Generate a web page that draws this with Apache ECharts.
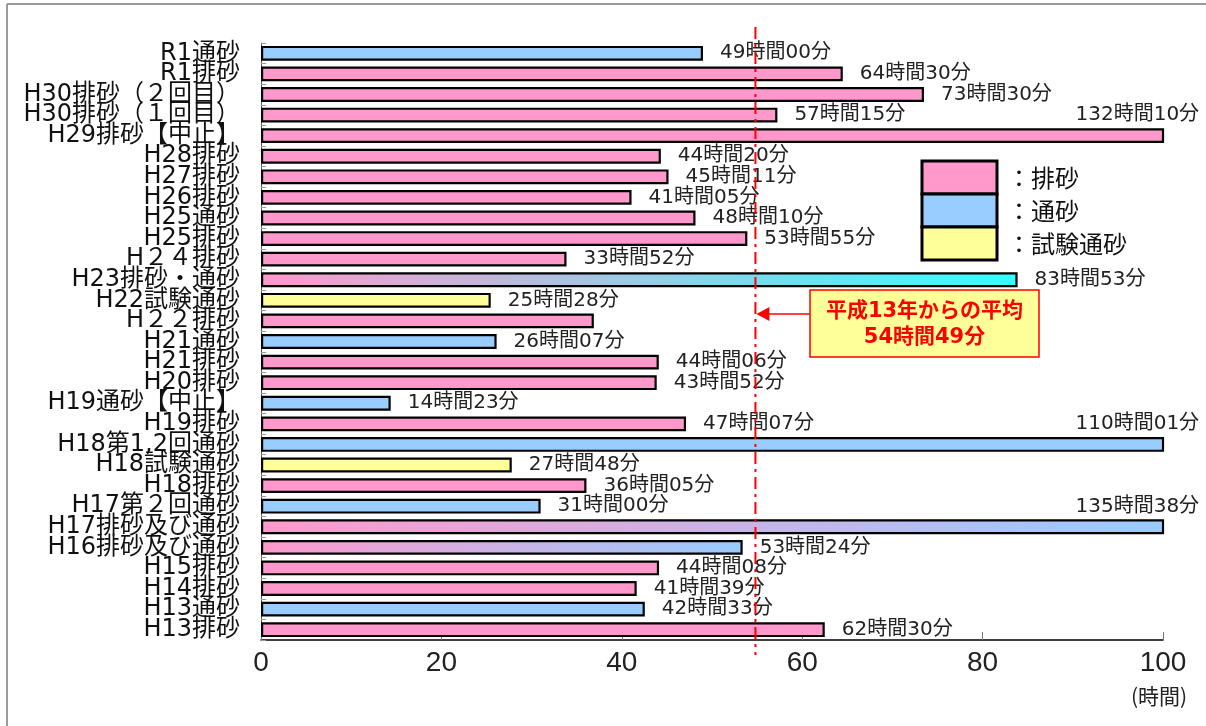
<!DOCTYPE html>
<html><head><meta charset="utf-8">
<script src="https://cdn.jsdelivr.net/npm/echarts@6/dist/echarts.min.js"></script>
<style>html,body{margin:0;padding:0;background:#fff}#c{width:1206px;height:726px}</style>
</head><body><div id="c"></div>
<script>
const categories = ['R1通砂','R1排砂','H30排砂（２回目）','H30排砂（１回目）','H29排砂【中止】','H28排砂','H27排砂','H26排砂','H25通砂','H25排砂','H２４排砂','H23排砂・通砂','H22試験通砂','H２２排砂','H21通砂','H21排砂','H20排砂','H19通砂【中止】','H19排砂','H18第1,2回通砂','H18試験通砂','H18排砂','H17第２回通砂','H17排砂及び通砂','H16排砂及び通砂','H15排砂','H14排砂','H13通砂','H13排砂'];
const values = [49.0,64.5,73.5,57.25,132.17,44.33,45.18,41.08,48.17,53.92,33.87,83.88,25.47,36.9,26.12,44.1,43.87,14.38,47.12,110.02,27.8,36.08,31.0,135.63,53.4,44.13,41.65,42.55,62.5];
const kinds = ['b','p','p','p','p','p','p','p','p','p','p','pc','y','p','b','p','p','b','p','b','y','p','b','pb','pb','p','p','b','p'];
const valueLabels = ['49時間00分','64時間30分','73時間30分','57時間15分','132時間10分','44時間20分','45時間11分','41時間05分','48時間10分','53時間55分','33時間52分','83時間53分','25時間28分','','26時間07分','44時間06分','43時間52分','14時間23分','47時間07分','110時間01分','27時間48分','36時間05分','31時間00分','135時間38分','53時間24分','44時間08分','41時間39分','42時間33分','62時間30分'];
const xTicks = [0,20,40,60,80,100];
const average = 54 + 49/60;
const legendItems = ['排砂','通砂','試験通砂'];
const noteLines = ['平成13年からの平均','54時間49分'];

const PINK = '#FF99CC', BLUE = '#99CCFF', YELLOW = '#FFFF99', CYAN = '#33FFFF';
function grad(a,b){return new echarts.graphic.LinearGradient(0,0,1,0,[{offset:0,color:a},{offset:1,color:b}]);}
function colorOf(k){
  if(k==='p') return PINK; if(k==='b') return BLUE; if(k==='y') return YELLOW;
  if(k==='pc') return grad(PINK,CYAN); return grad(PINK,BLUE);
}
const FONT = '"DejaVu Sans","Noto Sans CJK JP",sans-serif';
const XMAX = xTicks[xTicks.length-1];
const data = values.map((v,i)=>{
  const item = {value:v, itemStyle:{color:colorOf(kinds[i])}};
  if(v > XMAX){
    item.label = {position:['100%',0], align:'right', verticalAlign:'bottom', offset:[35,-3]};
  }
  return item;
});

const chart = echarts.init(document.getElementById('c'));
chart.setOption({
  animation:false,
  backgroundColor:'#fff',
  grid:{left:261,right:43,top:43,bottom:86},
  xAxis:{type:'value',min:0,max:XMAX,interval:20,
    axisLine:{show:true,lineStyle:{color:'#000',width:1.5}},
    axisTick:{show:true,inside:true,length:8,lineStyle:{color:'#777'}},
    splitLine:{show:false},
    axisLabel:{fontFamily:'"Liberation Sans",sans-serif',fontSize:28,color:'#222',margin:9,
      formatter:v=>xTicks.includes(v)?String(v):''}
  },
  yAxis:{type:'category',data:categories,inverse:true,
    axisLine:{show:true,lineStyle:{color:'#555',width:1}},
    axisTick:{show:true,inside:true,length:5,lineStyle:{color:'#999'}},
    axisLabel:{fontFamily:FONT,fontSize:24,color:'#111',margin:21,interval:0}
  },
  series:[{type:'bar',data:data,barWidth:'72%',clip:true,
    itemStyle:{borderColor:'#000',borderWidth:2.2},
    label:{show:true,position:'right',distance:17,fontFamily:FONT,fontSize:20,color:'#222',
      formatter:p=>valueLabels[p.dataIndex]}
  }]
});

const xAvg = chart.convertToPixel({xAxisIndex:0}, average);
const boxX = 810, boxY = 290, boxW = 229, boxH = 67, arrowY = 314;
const legX = 922, legY = 161, legW = 75, legH = 33;
const NOTEFONT = '"DejaVu Sans","Noto Sans CJK JP",sans-serif';
const g = [
  {type:'line',shape:{x1:7,y1:4,x2:1206,y2:4},style:{stroke:'#999',lineWidth:2}},
  {type:'line',shape:{x1:7,y1:4,x2:7,y2:726},style:{stroke:'#999',lineWidth:2}},
  {type:'line',z:50,shape:{x1:xAvg,y1:27,x2:xAvg,y2:655},style:{stroke:'#FF0000',lineWidth:2,lineDash:[12,5,3,5]}},
  {type:'rect',z:60,shape:{x:boxX,y:boxY,width:boxW,height:boxH},style:{fill:'#FFFF99',stroke:'#FF0000',lineWidth:1.5}},
  {type:'text',z:61,style:{x:boxX+boxW/2,y:312,text:noteLines[0],fill:'#FF0000',font:'bold 21px '+NOTEFONT,textAlign:'center',textVerticalAlign:'middle'}},
  {type:'text',z:61,style:{x:boxX+boxW/2,y:338,text:noteLines[1],fill:'#FF0000',font:'bold 21px '+NOTEFONT,textAlign:'center',textVerticalAlign:'middle'}},
  {type:'line',z:60,shape:{x1:boxX,y1:arrowY,x2:xAvg+10,y2:arrowY},style:{stroke:'#FF0000',lineWidth:1.5}},
  {type:'polygon',z:60,shape:{points:[[xAvg+1,arrowY],[xAvg+14,arrowY-7],[xAvg+14,arrowY+7]]},style:{fill:'#FF0000'}},
  {type:'text',style:{x:1159,y:696,text:'(時間)',fill:'#222',font:'21px "Noto Sans CJK JP",sans-serif',textAlign:'center',textVerticalAlign:'middle'}}
];
const legColors = [PINK,BLUE,YELLOW];
legendItems.forEach((t,i)=>{
  g.push({type:'rect',z:40,shape:{x:legX,y:legY+i*legH,width:legW,height:legH},style:{fill:legColors[i],stroke:'#000',lineWidth:3}});
  g.push({type:'text',z:40,style:{x:legX+legW+10,y:legY+i*legH+legH/2,text:'：'+t,fill:'#111',font:'24px "Noto Sans CJK JP",sans-serif',textVerticalAlign:'middle'}});
});
chart.setOption({graphic:g});
</script></body></html>
